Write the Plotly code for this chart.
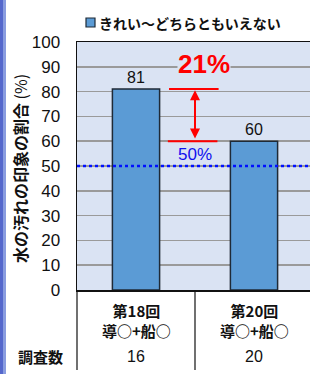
import plotly.graph_objects as go

categories = ["第18回<br>導○+船○", "第20回<br>導○+船○"]
values = [81, 60]
survey_label = "調査数"
survey_counts = [16, 20]
series_name = "きれい～どちらともいえない"
y_title = "水の汚れの印象の割合 (%)"
reference_level = 50
diff_label = "21%"
ref_label = "50%"
y_ticks = list(range(0, 101, 10))

W, H = 310, 374
L, R, T, B = 77, 0, 42, 84
pw = W - L - R
ph = H - T - B

FONT = "Liberation Sans, Arial, Noto Sans CJK JP, sans-serif"
JFONT = "Noto Sans CJK JP, Liberation Sans, sans-serif"

xs = list(range(len(values)))
BAR_COLOR = "#5b9bd5"
BAR_EDGE = "#1f2a36"

fig = go.Figure()
fig.add_trace(go.Bar(
    x=xs, y=values, width=0.4, name=series_name,
    marker=dict(color=BAR_COLOR, line=dict(color=BAR_EDGE, width=1.5)),
    text=[str(v) for v in values], textposition="outside",
    textfont=dict(family=FONT, size=16, color="#111"),
    cliponaxis=False, showlegend=False, hoverinfo="skip",
))

def px_to_paper_x(px):
    return (px - L) / pw

def px_to_paper_y(py):
    return (T + ph - py) / ph

cat_w = 118
x_min = -0.5
x_max = x_min + pw / cat_w

shapes = []
shapes.append(dict(type="line", xref="paper", x0=0, x1=1, yref="y", y0=reference_level, y1=reference_level,
                   line=dict(color="#0010ff", width=2.5, dash="dot"), layer="above"))
hi, lo = values[0], values[1]
shapes.append(dict(type="line", xref="x", x0=0.28, x1=0.70, yref="y", y0=hi, y1=hi,
                   line=dict(color="#ff0000", width=2)))
shapes.append(dict(type="line", xref="x", x0=0.27, x1=0.69, yref="y", y0=lo, y1=lo,
                   line=dict(color="#ff0000", width=2)))
for px in [L, L + cat_w]:
    shapes.append(dict(type="line", xref="paper", x0=px_to_paper_x(px), x1=px_to_paper_x(px),
                       yref="paper", y0=0, y1=px_to_paper_y(370),
                       line=dict(color="#111", width=1.2)))
shapes.append(dict(type="rect", xref="paper", yref="paper",
                   x0=px_to_paper_x(0), x1=px_to_paper_x(6), y0=px_to_paper_y(H), y1=px_to_paper_y(0),
                   fillcolor="#8a9de0", line=dict(width=0), layer="below"))
shapes.append(dict(type="rect", xref="paper", yref="paper",
                   x0=px_to_paper_x(0), x1=px_to_paper_x(3), y0=px_to_paper_y(H), y1=px_to_paper_y(0),
                   fillcolor="#5568cc", line=dict(width=0), layer="below"))
# legend icon
shapes.append(dict(type="rect", xref="paper", yref="paper",
                   x0=px_to_paper_x(86), x1=px_to_paper_x(95), y0=px_to_paper_y(27), y1=px_to_paper_y(18),
                   fillcolor=BAR_COLOR, line=dict(color=BAR_EDGE, width=1.2)))

annotations = []
annotations.append(dict(x=px_to_paper_x(97), y=px_to_paper_y(22.5), xref="paper", yref="paper",
                        xanchor="left", yanchor="middle", text="<b>" + series_name + "</b>", showarrow=False,
                        font=dict(family=JFONT, size=14, color="#111")))
annotations.append(dict(x=0.5, y=hi - 0.5, xref="x", yref="y", ax=0.5, ay=lo + 0.5, axref="x", ayref="y",
                        text="", showarrow=True, arrowhead=2, arrowside="end+start", arrowsize=1,
                        arrowwidth=2, arrowcolor="#ff0000"))
annotations.append(dict(x=0.58, y=91, xref="x", yref="y", xanchor="center", yanchor="middle",
                        text="<b>" + diff_label + "</b>", showarrow=False,
                        font=dict(family=FONT, size=26, color="#ff0000"), bgcolor="#dae3f3",
                        borderpad=0))
annotations.append(dict(x=0.5, y=54.5, xref="x", yref="y", xanchor="center", yanchor="middle",
                        text=ref_label, showarrow=False,
                        font=dict(family=FONT, size=17, color="#1010ee")))
annotations.append(dict(x=0, y=px_to_paper_y(169), xref="paper", yref="paper", xshift=-(L - 20),
                        xanchor="center", yanchor="middle",
                        text="<b>" + y_title.replace(" (%)", "</b> (%)"), textangle=-90, showarrow=False,
                        font=dict(family=JFONT, size=16, color="#111")))
for i, (c, n) in enumerate(zip(categories, survey_counts)):
    annotations.append(dict(x=xs[i], y=px_to_paper_y(320), xref="x", yref="paper",
                            xanchor="center", yanchor="middle",
                            text="<b>" + c.replace("<br>", "</b><br><b>") + "</b>",
                            showarrow=False, font=dict(family=JFONT, size=15, color="#111")))
    annotations.append(dict(x=xs[i], y=px_to_paper_y(357), xref="x", yref="paper",
                            xanchor="center", yanchor="middle", text=str(n),
                            showarrow=False, font=dict(family=FONT, size=16, color="#111")))
annotations.append(dict(x=px_to_paper_x(40), y=px_to_paper_y(357), xref="paper", yref="paper",
                        xanchor="center", yanchor="middle",
                        text="<b>" + survey_label + "</b>", showarrow=False,
                        font=dict(family=JFONT, size=15, color="#111")))

fig.update_layout(
    width=W, height=H,
    margin=dict(l=L, r=R, t=T, b=B, pad=0, autoexpand=False),
    paper_bgcolor="white", plot_bgcolor="#dae3f3",
    showlegend=False, hovermode=False,
    xaxis=dict(range=[x_min, x_max], showticklabels=False, showgrid=False, zeroline=False,
               showline=True, linecolor="#111", linewidth=1.5, mirror=True, ticks=""),
    yaxis=dict(range=[0, 100], tickvals=y_ticks, showgrid=True, gridcolor="#9a9a9a", gridwidth=1.5,
               zeroline=False, showline=True, linecolor="#111", linewidth=1.5, mirror=True,
               tickfont=dict(family=FONT, size=17, color="#111"), ticks="", ticklen=0,
               ticklabelstandoff=12),
    shapes=shapes, annotations=annotations,
)

fig.write_html("out.html", config={"displayModeBar": False, "staticPlot": True})

with open("out.html", "r", encoding="utf-8") as f:
    html = f.read()
html = html.replace("<head>", "<head><style>html,body{margin:0;padding:0;overflow:hidden}</style>", 1)
with open("out.html", "w", encoding="utf-8") as f:
    f.write(html)
